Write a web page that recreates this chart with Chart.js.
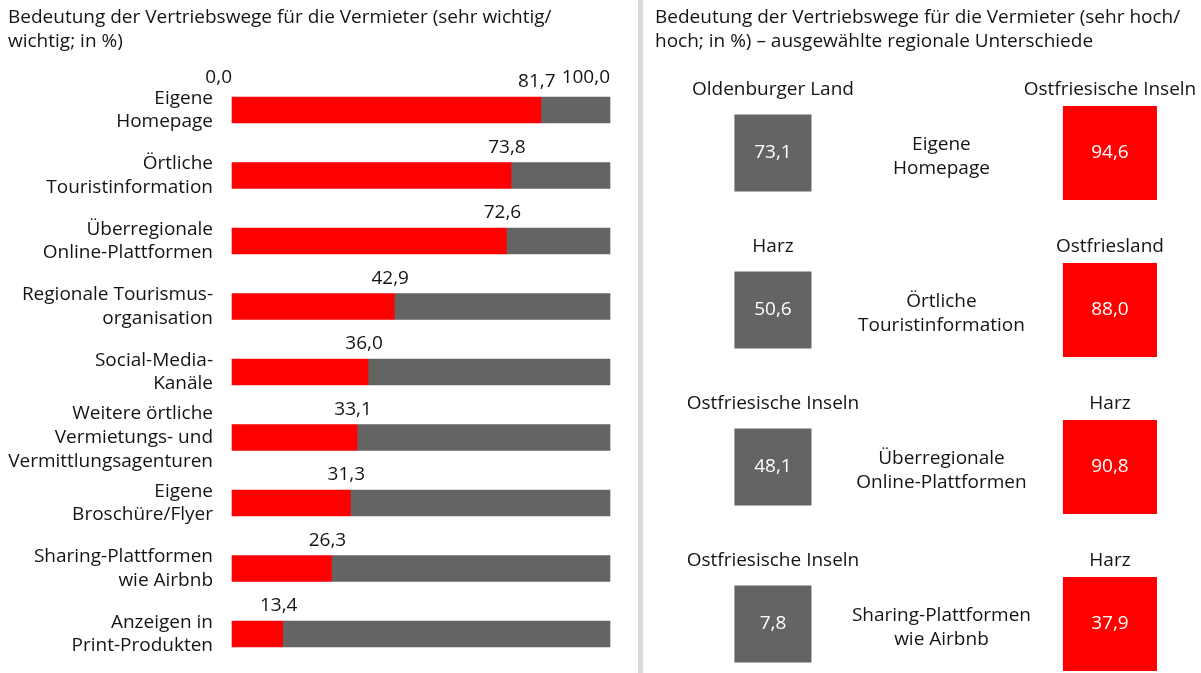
<!DOCTYPE html>
<html lang="de">
<head>
<meta charset="utf-8">
<script src="https://cdn.jsdelivr.net/npm/chart.js@4/dist/chart.umd.min.js"></script>
<style>
  body { margin: 0; background: #fff; width: 1201px; height: 673px; overflow: hidden; position: relative; }
  #wrapLeft { position: absolute; left: 0; top: 0; width: 636px; height: 673px; }
  #wrapRight { position: absolute; left: 645px; top: 0; width: 556px; height: 673px; }
  #divider { position: absolute; left: 638px; top: 0; width: 5px; height: 673px; background: #dadada; }
</style>
</head>
<body>
<div id="wrapLeft"><canvas id="chartLeft"></canvas></div>
<div id="divider"></div>
<div id="wrapRight"><canvas id="chartRight"></canvas></div>
<script>
// left panel: share of landlords rating a channel as (very) important
const channels = [
    ['Eigene', 'Homepage'],
    ['Örtliche', 'Touristinformation'],
    ['Überregionale', 'Online-Plattformen'],
    ['Regionale Tourismus-', 'organisation'],
    ['Social-Media-', 'Kanäle'],
    ['Weitere örtliche', 'Vermietungs- und', 'Vermittlungsagenturen'],
    ['Eigene', 'Broschüre/Flyer'],
    ['Sharing-Plattformen', 'wie Airbnb'],
    ['Anzeigen in', 'Print-Produkten']
]
const shares = [81.7, 73.8, 72.6, 42.9, 36.0, 33.1, 31.3, 26.3, 13.4]
const scaleTicks = [0, 100]

// right panel: regional extremes for selected channels
const regionChannels = [
    ['Eigene', 'Homepage'],
    ['Örtliche', 'Touristinformation'],
    ['Überregionale', 'Online-Plattformen'],
    ['Sharing-Plattformen', 'wie Airbnb']
]
const lowRegions = ['Oldenburger Land', 'Harz', 'Ostfriesische Inseln', 'Ostfriesische Inseln']
const lowValues = [73.1, 50.6, 48.1, 7.8]
const highRegions = ['Ostfriesische Inseln', 'Ostfriesland', 'Harz', 'Harz']
const highValues = [94.6, 88.0, 90.8, 37.9]

const RED = '#ff0000'
const GREY = '#646464'
const TEXT = '#141414'
const FONT = "'Open Sans', sans-serif"
const SIZE = 19
const LH = 1.25

Chart.defaults.font.family = FONT
Chart.defaults.font.size = SIZE
Chart.defaults.color = TEXT

function fmt(v){
    return v.toFixed(1).replace('.', ',')
}

// value above the end of each red bar
const barValues = {
    id: 'barValues',
    afterDatasetsDraw(chart){
        const ctx = chart.ctx
        ctx.save()
        ctx.font = SIZE + 'px ' + FONT
        ctx.fillStyle = TEXT
        ctx.textAlign = 'center'
        ctx.textBaseline = 'middle'
        chart.getDatasetMeta(0).data.forEach((bar, i) => {
            const top = bar.y - bar.height / 2
            ctx.fillText(fmt(shares[i]), bar.x - 4, top - 15)
        })
        ctx.restore()
    }
}

new Chart(document.getElementById('chartLeft'), {
    type: 'bar',
    data: {
        labels: channels,
        datasets: [
            { data: shares, backgroundColor: RED, barThickness: 26, clip: false },
            { data: shares.map(v => 100 - v), backgroundColor: GREY, barThickness: 26, clip: false }
        ]
    },
    options: {
        indexAxis: 'y',
        responsive: true,
        maintainAspectRatio: false,
        animation: false,
        events: [],
        layout: { autoPadding: false, padding: { left: 8, right: 26, bottom: 39 } },
        plugins: {
            legend: { display: false },
            tooltip: { enabled: false },
            title: {
                display: true,
                align: 'start',
                text: ['Bedeutung der Vertriebswege für die Vermieter (sehr wichtig/', 'wichtig; in %)'],
                font: { size: SIZE, weight: 'normal', lineHeight: LH },
                color: TEXT,
                padding: { top: 6, bottom: 0 }
            }
        },
        scales: {
            x: {
                position: 'top',
                stacked: true,
                min: 0,
                max: 100,
                grid: { display: false, drawTicks: false },
                border: { display: false },
                afterBuildTicks: axis => { axis.ticks = scaleTicks.map(v => ({ value: v })) },
                ticks: { align: 'end', padding: 21, color: TEXT, callback: v => fmt(v) },
                afterFit: axis => { axis.height = 110 - 6 - 2 * SIZE * LH }
            },
            y: {
                stacked: true,
                offset: false,
                grid: { display: false },
                border: { display: false },
                ticks: { autoSkip: false, padding: 11, color: TEXT, font: { lineHeight: LH } },
                afterFit: axis => { axis.width = 224 }
            }
        }
    },
    plugins: [barValues]
})

// region names above the squares, values inside, channel names in between
const squareLabels = {
    id: 'squareLabels',
    afterDatasetsDraw(chart){
        const ctx = chart.ctx
        const x = chart.scales.x
        const y = chart.scales.y
        ctx.save()
        ctx.font = SIZE + 'px ' + FONT
        ctx.textAlign = 'center'
        ctx.textBaseline = 'middle'
        const groups = [[lowValues, lowRegions, 0], [highValues, highRegions, 1]]
        groups.forEach(([vals, regions, ds]) => {
            chart.getDatasetMeta(ds).data.forEach((pt, i) => {
                ctx.fillStyle = '#ffffff'
                ctx.fillText(fmt(vals[i]), pt.x, pt.y)
                ctx.fillStyle = TEXT
                ctx.fillText(regions[i], pt.x, pt.y - 63)
            })
        })
        ctx.fillStyle = TEXT
        regionChannels.forEach((lines, i) => {
            const cy = y.getPixelForValue(i)
            const cx = x.getPixelForValue(2)
            lines.forEach((t, k) => {
                ctx.fillText(t, cx, cy + (k - (lines.length - 1) / 2) * 24 + 4)
            })
        })
        ctx.restore()
    }
}

new Chart(document.getElementById('chartRight'), {
    type: 'scatter',
    data: {
        datasets: [
            {
                data: lowValues.map((v, i) => ({ x: 1, y: i })),
                pointStyle: 'rect',
                pointRadius: 54.5,
                backgroundColor: GREY,
                borderWidth: 0,
                clip: false
            },
            {
                data: highValues.map((v, i) => ({ x: 3, y: i })),
                pointStyle: 'rect',
                pointRadius: 66.5,
                backgroundColor: RED,
                borderWidth: 0,
                clip: false
            }
        ]
    },
    options: {
        responsive: true,
        maintainAspectRatio: false,
        animation: false,
        events: [],
        layout: { autoPadding: false, padding: { left: 10, right: 10, bottom: 49 } },
        plugins: {
            legend: { display: false },
            tooltip: { enabled: false },
            title: {
                display: true,
                align: 'start',
                text: ['Bedeutung der Vertriebswege für die Vermieter (sehr hoch/', 'hoch; in %) – ausgewählte regionale Unterschiede'],
                font: { size: SIZE, weight: 'normal', lineHeight: LH },
                color: TEXT,
                padding: { top: 6, bottom: 153 - 6 - 2 * SIZE * LH }
            }
        },
        scales: {
            x: { type: 'linear', min: 0.3, max: 3.481, display: false },
            y: { type: 'linear', min: 0, max: 3, reverse: true, display: false }
        }
    },
    plugins: [squareLabels]
})
</script>
</body>
</html>
